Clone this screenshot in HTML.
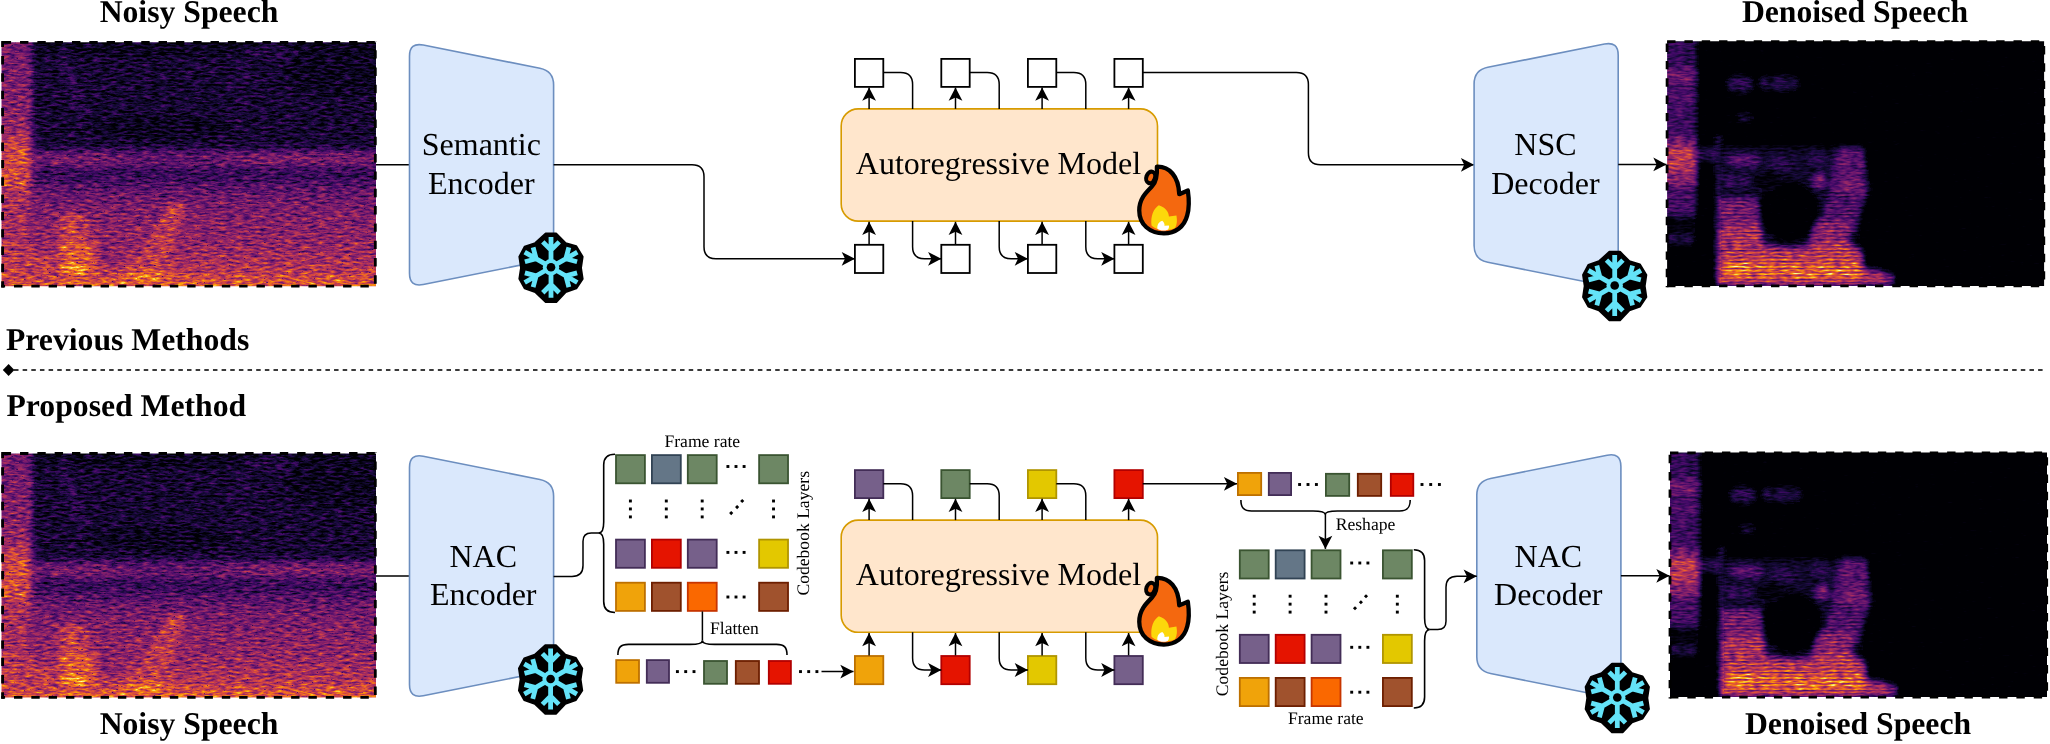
<!DOCTYPE html><html><head><meta charset="utf-8"><style>
html,body{margin:0;padding:0;background:#fff;width:2050px;height:744px;overflow:hidden}
svg{display:block;font-family:"Liberation Serif",serif;-webkit-font-smoothing:antialiased;will-change:transform}
text{text-rendering:geometricPrecision}
</style></head><body>
<svg width="2050" height="744" viewBox="0 0 2050 744">
<defs><g id="snow"><path d="M-5.4,-34.4 L5.4,-34.4 L15,-24.7 L25.8,-21.5 L32.3,-10.8 L30.6,0.5 L32.3,11.8 L25.8,21.5 L15,25.3 L5.4,35.5 L-5.4,35.5 L-16.1,25.3 L-26.9,21.5 L-32.3,11.8 L-30.6,0.5 L-32.3,-10.8 L-26.9,-21 L-16.1,-24.7Z" fill="#000" stroke="#000" stroke-width="2" stroke-linejoin="round"/>
<g stroke="#64e3f8" stroke-width="4.9" fill="none" stroke-linecap="butt"><path d="M0,-6 L0,-31 M0,-17.5 L-8.4,-25.9 M0,-17.5 L8.4,-25.9" transform="rotate(0)"/><path d="M0,-6 L0,-31 M0,-17.5 L-8.4,-25.9 M0,-17.5 L8.4,-25.9" transform="rotate(60)"/><path d="M0,-6 L0,-31 M0,-17.5 L-8.4,-25.9 M0,-17.5 L8.4,-25.9" transform="rotate(120)"/><path d="M0,-6 L0,-31 M0,-17.5 L-8.4,-25.9 M0,-17.5 L8.4,-25.9" transform="rotate(180)"/><path d="M0,-6 L0,-31 M0,-17.5 L-8.4,-25.9 M0,-17.5 L8.4,-25.9" transform="rotate(240)"/><path d="M0,-6 L0,-31 M0,-17.5 L-8.4,-25.9 M0,-17.5 L8.4,-25.9" transform="rotate(300)"/></g>
<circle r="8.4" fill="#64e3f8"/><circle r="4.4" fill="#000"/></g><g id="fire"><g transform="scale(0.10753)">
<ellipse cx="192" cy="162" rx="40" ry="55" transform="rotate(20 192 162)" fill="#f4680f" stroke="#000" stroke-width="38"/>
<path d="M250,62 C365,58 452,150 458,318 L538,284 C552,380 548,460 532,515 C505,622 420,682 315,682 C185,682 86,602 86,470 C86,360 150,300 205,245 C245,205 255,150 250,62 Z" fill="#f4680f" stroke="#000" stroke-width="40" stroke-linejoin="round"/>
<path d="M200,610 C190,520 220,450 268,420 C330,440 360,480 362,525 L432,515 C440,560 438,600 420,630 C380,660 250,665 200,610 Z" fill="#fcd80b"/>
<path d="M255,640 C250,600 270,575 300,565 C318,580 325,600 320,612 L362,608 C365,625 360,640 350,648 C320,660 280,660 255,640 Z" fill="#fff"/>
</g></g></defs>
<defs><filter id="infN" x="0" y="0" width="1" height="1" color-interpolation-filters="sRGB">
<feTurbulence type="fractalNoise" baseFrequency="0.12 0.45" numOctaves="3" seed="7" result="t"/>
<feColorMatrix in="t" type="matrix" values="1 0 0 0 0  1 0 0 0 0  1 0 0 0 0  0 0 0 0 1" result="n"/>
<feComposite in="SourceGraphic" in2="n" operator="arithmetic" k1="0.7" k2="0.65" k3="0.45" k4="-0.225" result="s"/>
<feTurbulence type="fractalNoise" baseFrequency="0.4 0.7" numOctaves="1" seed="12" result="t2"/>
<feColorMatrix in="t2" type="matrix" values="12 0 0 0 -8.399999999999999  12 0 0 0 -8.399999999999999  12 0 0 0 -8.399999999999999  0 0 0 0 1" result="m"/>
<feColorMatrix in="m" type="matrix" values="-0.6 0 0 0 1  0 -0.6 0 0 1  0 0 -0.6 0 1  0 0 0 0 1" result="mg"/>
<feComposite in="s" in2="mg" operator="arithmetic" k1="1" k2="0" k3="0" k4="0" result="s2"/>
<feComponentTransfer in="s2"><feFuncR type="table" tableValues="0 0.086 0.259 0.416 0.576 0.737 0.867 0.953 0.988 0.965 0.988"/><feFuncG type="table" tableValues="0 0.043 0.039 0.090 0.149 0.216 0.318 0.463 0.647 0.843 1.0"/><feFuncB type="table" tableValues="0.016 0.224 0.408 0.431 0.404 0.329 0.227 0.106 0.039 0.275 0.643"/><feFuncA type="linear" slope="0" intercept="1"/></feComponentTransfer>
</filter><filter id="infC" x="0" y="0" width="1" height="1" color-interpolation-filters="sRGB">
<feTurbulence type="fractalNoise" baseFrequency="0.12 0.45" numOctaves="2" seed="11" result="t"/>
<feColorMatrix in="t" type="matrix" values="1 0 0 0 0  1 0 0 0 0  1 0 0 0 0  0 0 0 0 1" result="n"/>
<feComposite in="SourceGraphic" in2="n" operator="arithmetic" k1="1.0" k2="0.5" k3="0.15" k4="-0.11" result="s"/>

<feComponentTransfer in="s"><feFuncR type="table" tableValues="0 0.086 0.259 0.416 0.576 0.737 0.867 0.953 0.988 0.965 0.988"/><feFuncG type="table" tableValues="0 0.043 0.039 0.090 0.149 0.216 0.318 0.463 0.647 0.843 1.0"/><feFuncB type="table" tableValues="0.016 0.224 0.408 0.431 0.404 0.329 0.227 0.106 0.039 0.275 0.643"/><feFuncA type="linear" slope="0" intercept="1"/></feComponentTransfer>
</filter><filter id="bl4" x="-5%" y="-5%" width="110%" height="110%"><feGaussianBlur stdDeviation="4"/></filter><filter id="bl3" x="-5%" y="-5%" width="110%" height="110%"><feGaussianBlur stdDeviation="3"/></filter><filter id="bl2" x="-5%" y="-5%" width="110%" height="110%"><feGaussianBlur stdDeviation="2.5 3"/></filter><clipPath id="cpN"><rect x="0" y="0" width="374.5" height="244"/></clipPath><clipPath id="cpC"><rect x="0" y="0" width="377" height="244.7"/></clipPath><linearGradient id="gN" gradientUnits="userSpaceOnUse" x1="0" y1="0" x2="0" y2="244"><stop offset="0.0000" stop-color="rgb(10,10,10)"/><stop offset="0.0615" stop-color="rgb(18,18,18)"/><stop offset="0.1434" stop-color="rgb(26,26,26)"/><stop offset="0.2254" stop-color="rgb(24,24,24)"/><stop offset="0.3074" stop-color="rgb(18,18,18)"/><stop offset="0.4221" stop-color="rgb(20,20,20)"/><stop offset="0.4467" stop-color="rgb(48,48,48)"/><stop offset="0.4631" stop-color="rgb(74,74,74)"/><stop offset="0.4877" stop-color="rgb(79,79,79)"/><stop offset="0.5082" stop-color="rgb(59,59,59)"/><stop offset="0.5246" stop-color="rgb(43,43,43)"/><stop offset="0.5656" stop-color="rgb(46,46,46)"/><stop offset="0.5943" stop-color="rgb(66,66,66)"/><stop offset="0.6557" stop-color="rgb(82,82,82)"/><stop offset="0.7377" stop-color="rgb(92,92,92)"/><stop offset="0.8197" stop-color="rgb(99,99,99)"/><stop offset="0.8811" stop-color="rgb(110,110,110)"/><stop offset="0.9344" stop-color="rgb(122,122,122)"/><stop offset="0.9713" stop-color="rgb(145,145,145)"/><stop offset="1.0000" stop-color="rgb(163,163,163)"/></linearGradient><linearGradient id="gL" gradientUnits="userSpaceOnUse" x1="0" y1="0" x2="0" y2="244"><stop offset="0.0000" stop-color="rgb(82,82,82)"/><stop offset="0.1639" stop-color="rgb(87,87,87)"/><stop offset="0.3484" stop-color="rgb(97,97,97)"/><stop offset="0.3975" stop-color="rgb(128,128,128)"/><stop offset="0.4426" stop-color="rgb(143,143,143)"/><stop offset="0.5738" stop-color="rgb(143,143,143)"/><stop offset="0.6148" stop-color="rgb(120,120,120)"/><stop offset="0.6967" stop-color="rgb(110,110,110)"/><stop offset="0.8197" stop-color="rgb(115,115,115)"/><stop offset="0.9426" stop-color="rgb(133,133,133)"/><stop offset="1.0000" stop-color="rgb(158,158,158)"/></linearGradient><g id="specN"><g clip-path="url(#cpN)"><g filter="url(#infN)"><g filter="url(#bl3)">
<rect x="-15" y="0" width="404.5" height="244" fill="url(#gN)"/>
<rect x="-15" y="-15" width="404.5" height="16" fill="rgb(10,10,10)"/>
<rect x="-15" y="243" width="404.5" height="16" fill="rgb(163,163,163)"/>
<rect x="-15" y="-15" width="44" height="274" fill="url(#gL)"/>
<ellipse cx="80" cy="117" rx="35" ry="5" fill="rgb(89,89,89)"/>
<ellipse cx="300" cy="116" rx="70" ry="5" fill="rgb(89,89,89)"/>
<ellipse cx="170" cy="117" rx="45" ry="5" fill="rgb(69,69,69)"/>
<path d="M52,10 L66,8 L88,70 L76,72 Z" fill="rgb(36,36,36)"/>
<ellipse cx="335" cy="25" rx="55" ry="30" fill="rgb(10,10,10)" opacity="0.8"/>
<ellipse cx="270" cy="12" rx="25" ry="10" fill="rgb(31,31,31)"/>
<ellipse cx="160" cy="85" rx="70" ry="12" fill="rgb(13,13,13)" opacity="0.6"/>
<rect x="236" y="10" width="4" height="80" fill="rgb(36,36,36)"/>
<path d="M58,172 L82,172 L90,200 L92,224 L58,224 Z" fill="rgb(133,133,133)"/>
<path d="M58,200 L92,200 L94,224 L58,224 Z" fill="rgb(153,153,153)"/>
<ellipse cx="75" cy="227" rx="16" ry="3.5" fill="rgb(209,209,209)"/>
<path d="M168,160 L186,165 L160,230 L130,230 Z" fill="rgb(128,128,128)"/>
<ellipse cx="146" cy="233" rx="22" ry="4" fill="rgb(184,184,184)"/>
<ellipse cx="110" cy="205" rx="15" ry="20" fill="rgb(97,97,97)"/>
<ellipse cx="28" cy="225" rx="25" ry="15" fill="rgb(128,128,128)"/>
</g></g></g></g><pattern id="harm" x="0" y="0" width="8" height="3.6" patternUnits="userSpaceOnUse"><rect x="0" y="0" width="8" height="1.3" fill="#000"/></pattern><g id="specC"><g clip-path="url(#cpC)"><g filter="url(#infC)"><g filter="url(#bl2)">
<rect x="-15" y="-15" width="407" height="274" fill="rgb(0,0,0)"/>
<rect x="-10" y="-10" width="38" height="37" fill="rgb(51,51,51)"/>
<rect x="-10" y="27" width="38" height="16" fill="rgb(82,82,82)"/>
<rect x="-10" y="43" width="38" height="9" fill="rgb(56,56,56)"/>
<rect x="-10" y="52" width="38" height="9" fill="rgb(76,76,76)"/>
<rect x="-10" y="61" width="38" height="35" fill="rgb(56,56,56)"/>
<rect x="-10" y="96" width="38" height="10" fill="rgb(92,92,92)"/>
<rect x="-10" y="106" width="38" height="24" fill="rgb(133,133,133)"/>
<rect x="-10" y="130" width="38" height="14" fill="rgb(102,102,102)"/>
<rect x="-10" y="144" width="38" height="30" fill="rgb(61,61,61)"/>
<rect x="-10" y="174" width="38" height="21" fill="rgb(13,13,13)"/>
<rect x="2" y="195" width="24" height="6" fill="rgb(51,51,51)"/>
<rect x="28" y="108" width="22" height="10" fill="rgb(46,46,46)"/>
<rect x="49.5" y="96" width="4" height="148" fill="rgb(51,51,51)"/>
<ellipse cx="73" cy="43" rx="12" ry="7" fill="rgb(51,51,51)"/>
<ellipse cx="112" cy="42" rx="20" ry="6" fill="rgb(43,43,43)"/>
<ellipse cx="77" cy="77" rx="8" ry="3" fill="rgb(38,38,38)"/>
<path d="M54,107 L192,107 L196,140 L206,150 L196,160 L190,200 L54,205 Z" fill="rgb(26,26,26)"/>
<ellipse cx="76" cy="119" rx="17" ry="5" fill="rgb(76,76,76)"/>
<ellipse cx="112" cy="122" rx="12" ry="5" fill="rgb(51,51,51)"/>
<ellipse cx="150" cy="118" rx="10" ry="5" fill="rgb(51,51,51)"/>
<ellipse cx="70" cy="140" rx="14" ry="6" fill="rgb(51,51,51)"/>
<path d="M170,108 L195,108 L199,150 L188,185 L174,214 L140,216 L152,185 L163,150 Z" fill="rgb(76,76,76)"/>
<ellipse cx="152" cy="140" rx="7" ry="6" fill="rgb(92,92,92)"/>
<ellipse cx="184" cy="145" rx="10" ry="6" fill="rgb(97,97,97)"/>
<path d="M150,180 L185,180 L172,216 L138,218 Z" fill="rgb(117,117,117)"/>
<circle cx="122" cy="170" r="31" fill="rgb(5,5,5)"/>
<ellipse cx="100" cy="140" rx="16" ry="10" fill="rgb(10,10,10)"/>
<path d="M53,158 L90,158 L94,212 L53,212 Z" fill="rgb(102,102,102)"/>
<path d="M53,185 L93,185 L97,214 L53,214 Z" fill="rgb(140,140,140)"/>
<path d="M53,214 L100,206 L125,209 L150,204 L178,200 L194,212 L194,228 L224,236 L224,241 L53,241 Z" fill="rgb(153,153,153)"/>
<path d="M53,222 L194,222 L194,240 L53,240 Z" fill="rgb(189,189,189)"/>
<ellipse cx="75" cy="226" rx="17" ry="2.2" fill="rgb(237,237,237)"/>
<ellipse cx="152" cy="232" rx="38" ry="1.8" fill="rgb(217,217,217)"/>
</g><rect x="54" y="150" width="172" height="92" fill="url(#harm)" opacity="0.38"/></g></g></g></defs>
<use href="#specN" transform="translate(1.5,42.3)"/>
<g fill="none" stroke="#000" stroke-width="2.8"><path d="M1.20,42.30 L376.70,42.30" stroke-dasharray="8.4 8.92" stroke-dashoffset="15.82"/><path d="M375.30,40.90 L375.30,287.60" stroke-dasharray="8.4 8.92" stroke-dashoffset="8.02"/><path d="M1.20,286.20 L376.70,286.20" stroke-dasharray="8.4 8.92" stroke-dashoffset="4.52"/><path d="M2.60,40.90 L2.60,287.60" stroke-dasharray="8.4 8.92" stroke-dashoffset="2.22"/></g>
<use href="#specC" transform="translate(1667.1,41.2)"/>
<g fill="none" stroke="#000" stroke-width="2.8"><path d="M1665.70,41.60 L2045.20,41.60" stroke-dasharray="8.4 8.92" stroke-dashoffset="15.92"/><path d="M2043.80,40.20 L2043.80,287.30" stroke-dasharray="8.4 8.92" stroke-dashoffset="11.52"/><path d="M1665.70,285.90 L2045.20,285.90" stroke-dasharray="8.4 8.92" stroke-dashoffset="15.92"/><path d="M1667.10,40.20 L1667.10,287.30" stroke-dasharray="8.4 8.92" stroke-dashoffset="13.92"/></g>
<use href="#specN" transform="translate(1.5,453.5)"/>
<g fill="none" stroke="#000" stroke-width="2.8"><path d="M1.20,453.50 L376.70,453.50" stroke-dasharray="8.4 8.92" stroke-dashoffset="15.82"/><path d="M375.30,452.10 L375.30,698.80" stroke-dasharray="8.4 8.92" stroke-dashoffset="8.02"/><path d="M1.20,697.40 L376.70,697.40" stroke-dasharray="8.4 8.92" stroke-dashoffset="4.52"/><path d="M2.60,452.10 L2.60,698.80" stroke-dasharray="8.4 8.92" stroke-dashoffset="2.22"/></g>
<use href="#specC" transform="translate(1670.0,452.4)"/>
<g fill="none" stroke="#000" stroke-width="2.8"><path d="M1668.60,452.80 L2048.10,452.80" stroke-dasharray="8.4 8.92" stroke-dashoffset="15.92"/><path d="M2046.70,451.40 L2046.70,698.50" stroke-dasharray="8.4 8.92" stroke-dashoffset="11.52"/><path d="M1668.60,697.10 L2048.10,697.10" stroke-dasharray="8.4 8.92" stroke-dashoffset="15.92"/><path d="M1670.00,451.40 L1670.00,698.50" stroke-dasharray="8.4 8.92" stroke-dashoffset="13.92"/></g>
<text x="189" y="22.2" font-size="31.7" font-weight="bold" text-anchor="middle" >Noisy Speech</text>
<text x="1855" y="22.2" font-size="31.7" font-weight="bold" text-anchor="middle" >Denoised Speech</text>
<text x="189" y="733.8" font-size="31.7" font-weight="bold" text-anchor="middle" >Noisy Speech</text>
<text x="1858" y="733.8" font-size="31.7" font-weight="bold" text-anchor="middle" >Denoised Speech</text>
<text x="6" y="350.2" font-size="31.7" font-weight="bold" text-anchor="start" >Previous Methods</text>
<text x="6.5" y="415.6" font-size="31.7" font-weight="bold" text-anchor="start" >Proposed Method</text>
<path d="M14,370 L2045,370" stroke="#3a3a3a" stroke-width="1.8" stroke-dasharray="4.5 4.15" fill="none"/>
<path d="M2.8,370 L8.6,364 L14.4,370 L8.6,376 Z" fill="#000"/>
<path d="M376.00,164.80 L409.50,164.80" fill="none" stroke="#000" stroke-width="1.5"/>
<path d="M409.50,56.30 Q409.50,42.30 423.23,45.03 L539.87,68.27 Q553.60,71.00 553.60,85.00 L553.60,244.60 Q553.60,258.60 539.87,261.33 L423.23,284.57 Q409.50,287.30 409.50,273.30Z" fill="#dae8fc" stroke="#6c8ebf" stroke-width="1.6"/>
<text x="481.3" y="154.8" font-size="32" text-anchor="middle" >Semantic</text>
<text x="481.3" y="193.7" font-size="32" text-anchor="middle" >Encoder</text>
<rect x="841.2" y="108.9" width="316.3" height="112.2" rx="17" ry="17" fill="#ffe6cc" stroke="#d79b00" stroke-width="1.6"/>
<text x="998.5" y="173.6" font-size="32" text-anchor="middle" >Autoregressive Model</text>
<rect x="854.90" y="58.90" width="28.40" height="28.00" fill="#ffffff" stroke="#000000" stroke-width="1.8"/>
<rect x="854.90" y="244.80" width="28.40" height="28.20" fill="#ffffff" stroke="#000000" stroke-width="1.8"/>
<path d="M869.10,108.90 L869.10,87.60" fill="none" stroke="#000" stroke-width="1.5"/><path d="M869.10,87.60 L862.20,100.80 L869.10,97.50 L876.00,100.80Z" fill="#000"/>
<path d="M869.10,244.20 L869.10,221.80" fill="none" stroke="#000" stroke-width="1.5"/><path d="M869.10,221.80 L862.20,235.00 L869.10,231.70 L876.00,235.00Z" fill="#000"/>
<rect x="941.30" y="58.90" width="28.40" height="28.00" fill="#ffffff" stroke="#000000" stroke-width="1.8"/>
<rect x="941.30" y="244.80" width="28.40" height="28.20" fill="#ffffff" stroke="#000000" stroke-width="1.8"/>
<path d="M955.50,108.90 L955.50,87.60" fill="none" stroke="#000" stroke-width="1.5"/><path d="M955.50,87.60 L948.60,100.80 L955.50,97.50 L962.40,100.80Z" fill="#000"/>
<path d="M955.50,244.20 L955.50,221.80" fill="none" stroke="#000" stroke-width="1.5"/><path d="M955.50,221.80 L948.60,235.00 L955.50,231.70 L962.40,235.00Z" fill="#000"/>
<rect x="1027.90" y="58.90" width="28.40" height="28.00" fill="#ffffff" stroke="#000000" stroke-width="1.8"/>
<rect x="1027.90" y="244.80" width="28.40" height="28.20" fill="#ffffff" stroke="#000000" stroke-width="1.8"/>
<path d="M1042.10,108.90 L1042.10,87.60" fill="none" stroke="#000" stroke-width="1.5"/><path d="M1042.10,87.60 L1035.20,100.80 L1042.10,97.50 L1049.00,100.80Z" fill="#000"/>
<path d="M1042.10,244.20 L1042.10,221.80" fill="none" stroke="#000" stroke-width="1.5"/><path d="M1042.10,221.80 L1035.20,235.00 L1042.10,231.70 L1049.00,235.00Z" fill="#000"/>
<rect x="1114.40" y="58.90" width="28.40" height="28.00" fill="#ffffff" stroke="#000000" stroke-width="1.8"/>
<rect x="1114.40" y="244.80" width="28.40" height="28.20" fill="#ffffff" stroke="#000000" stroke-width="1.8"/>
<path d="M1128.60,108.90 L1128.60,87.60" fill="none" stroke="#000" stroke-width="1.5"/><path d="M1128.60,87.60 L1121.70,100.80 L1128.60,97.50 L1135.50,100.80Z" fill="#000"/>
<path d="M1128.60,244.20 L1128.60,221.80" fill="none" stroke="#000" stroke-width="1.5"/><path d="M1128.60,221.80 L1121.70,235.00 L1128.60,231.70 L1135.50,235.00Z" fill="#000"/>
<path d="M883.30,72.60 L900.60,72.60 Q912.60,72.60 912.60,84.60 L912.60,108.90" fill="none" stroke="#000" stroke-width="1.5"/>
<path d="M912.60,221.10 L912.60,246.80 Q912.60,258.80 924.60,258.80 L941.30,258.80" fill="none" stroke="#000" stroke-width="1.5"/><path d="M941.30,258.80 L928.10,251.90 L931.40,258.80 L928.10,265.70Z" fill="#000"/>
<path d="M969.70,72.60 L987.20,72.60 Q999.20,72.60 999.20,84.60 L999.20,108.90" fill="none" stroke="#000" stroke-width="1.5"/>
<path d="M999.20,221.10 L999.20,246.80 Q999.20,258.80 1011.20,258.80 L1027.90,258.80" fill="none" stroke="#000" stroke-width="1.5"/><path d="M1027.90,258.80 L1014.70,251.90 L1018.00,258.80 L1014.70,265.70Z" fill="#000"/>
<path d="M1056.30,72.60 L1073.80,72.60 Q1085.80,72.60 1085.80,84.60 L1085.80,108.90" fill="none" stroke="#000" stroke-width="1.5"/>
<path d="M1085.80,221.10 L1085.80,246.80 Q1085.80,258.80 1097.80,258.80 L1114.40,258.80" fill="none" stroke="#000" stroke-width="1.5"/><path d="M1114.40,258.80 L1101.20,251.90 L1104.50,258.80 L1101.20,265.70Z" fill="#000"/>
<use href="#fire" x="1130" y="160"/>
<path d="M376.00,576.00 L409.50,576.00" fill="none" stroke="#000" stroke-width="1.5"/>
<path d="M409.50,467.50 Q409.50,453.50 423.23,456.23 L539.87,479.47 Q553.60,482.20 553.60,496.20 L553.60,655.80 Q553.60,669.80 539.87,672.53 L423.23,695.77 Q409.50,698.50 409.50,684.50Z" fill="#dae8fc" stroke="#6c8ebf" stroke-width="1.6"/>
<text x="483.2" y="567" font-size="32" text-anchor="middle" >NAC</text>
<text x="483.2" y="604.8" font-size="32" text-anchor="middle" >Encoder</text>
<rect x="841.2" y="520.1" width="316.3" height="112.2" rx="17" ry="17" fill="#ffe6cc" stroke="#d79b00" stroke-width="1.6"/>
<text x="998.5" y="584.8" font-size="32" text-anchor="middle" >Autoregressive Model</text>
<rect x="854.90" y="470.10" width="28.40" height="28.00" fill="#76608a" stroke="#432d57" stroke-width="1.8"/>
<rect x="854.90" y="656.00" width="28.40" height="28.20" fill="#f0a30a" stroke="#bd7000" stroke-width="1.8"/>
<path d="M869.10,520.10 L869.10,498.80" fill="none" stroke="#000" stroke-width="1.5"/><path d="M869.10,498.80 L862.20,512.00 L869.10,508.70 L876.00,512.00Z" fill="#000"/>
<path d="M869.10,655.40 L869.10,633.00" fill="none" stroke="#000" stroke-width="1.5"/><path d="M869.10,633.00 L862.20,646.20 L869.10,642.90 L876.00,646.20Z" fill="#000"/>
<rect x="941.30" y="470.10" width="28.40" height="28.00" fill="#6d8764" stroke="#3a5431" stroke-width="1.8"/>
<rect x="941.30" y="656.00" width="28.40" height="28.20" fill="#e51400" stroke="#b20000" stroke-width="1.8"/>
<path d="M955.50,520.10 L955.50,498.80" fill="none" stroke="#000" stroke-width="1.5"/><path d="M955.50,498.80 L948.60,512.00 L955.50,508.70 L962.40,512.00Z" fill="#000"/>
<path d="M955.50,655.40 L955.50,633.00" fill="none" stroke="#000" stroke-width="1.5"/><path d="M955.50,633.00 L948.60,646.20 L955.50,642.90 L962.40,646.20Z" fill="#000"/>
<rect x="1027.90" y="470.10" width="28.40" height="28.00" fill="#e3c800" stroke="#b09500" stroke-width="1.8"/>
<rect x="1027.90" y="656.00" width="28.40" height="28.20" fill="#e3c800" stroke="#b09500" stroke-width="1.8"/>
<path d="M1042.10,520.10 L1042.10,498.80" fill="none" stroke="#000" stroke-width="1.5"/><path d="M1042.10,498.80 L1035.20,512.00 L1042.10,508.70 L1049.00,512.00Z" fill="#000"/>
<path d="M1042.10,655.40 L1042.10,633.00" fill="none" stroke="#000" stroke-width="1.5"/><path d="M1042.10,633.00 L1035.20,646.20 L1042.10,642.90 L1049.00,646.20Z" fill="#000"/>
<rect x="1114.40" y="470.10" width="28.40" height="28.00" fill="#e51400" stroke="#b20000" stroke-width="1.8"/>
<rect x="1114.40" y="656.00" width="28.40" height="28.20" fill="#76608a" stroke="#432d57" stroke-width="1.8"/>
<path d="M1128.60,520.10 L1128.60,498.80" fill="none" stroke="#000" stroke-width="1.5"/><path d="M1128.60,498.80 L1121.70,512.00 L1128.60,508.70 L1135.50,512.00Z" fill="#000"/>
<path d="M1128.60,655.40 L1128.60,633.00" fill="none" stroke="#000" stroke-width="1.5"/><path d="M1128.60,633.00 L1121.70,646.20 L1128.60,642.90 L1135.50,646.20Z" fill="#000"/>
<path d="M883.30,483.80 L900.60,483.80 Q912.60,483.80 912.60,495.80 L912.60,520.10" fill="none" stroke="#000" stroke-width="1.5"/>
<path d="M912.60,632.30 L912.60,658.00 Q912.60,670.00 924.60,670.00 L941.30,670.00" fill="none" stroke="#000" stroke-width="1.5"/><path d="M941.30,670.00 L928.10,663.10 L931.40,670.00 L928.10,676.90Z" fill="#000"/>
<path d="M969.70,483.80 L987.20,483.80 Q999.20,483.80 999.20,495.80 L999.20,520.10" fill="none" stroke="#000" stroke-width="1.5"/>
<path d="M999.20,632.30 L999.20,658.00 Q999.20,670.00 1011.20,670.00 L1027.90,670.00" fill="none" stroke="#000" stroke-width="1.5"/><path d="M1027.90,670.00 L1014.70,663.10 L1018.00,670.00 L1014.70,676.90Z" fill="#000"/>
<path d="M1056.30,483.80 L1073.80,483.80 Q1085.80,483.80 1085.80,495.80 L1085.80,520.10" fill="none" stroke="#000" stroke-width="1.5"/>
<path d="M1085.80,632.30 L1085.80,658.00 Q1085.80,670.00 1097.80,670.00 L1114.40,670.00" fill="none" stroke="#000" stroke-width="1.5"/><path d="M1114.40,670.00 L1101.20,663.10 L1104.50,670.00 L1101.20,676.90Z" fill="#000"/>
<use href="#fire" x="1130" y="571.2"/>
<path d="M553.60,164.80 L692.00,164.80 Q704.00,164.80 704.00,176.80 L704.00,246.80 Q704.00,258.80 716.00,258.80 L854.90,258.80" fill="none" stroke="#000" stroke-width="1.5"/><path d="M854.90,258.80 L841.70,251.90 L845.00,258.80 L841.70,265.70Z" fill="#000"/>
<path d="M1142.80,72.60 L1296.40,72.60 Q1308.40,72.60 1308.40,84.60 L1308.40,152.80 Q1308.40,164.80 1320.40,164.80 L1474.10,164.80" fill="none" stroke="#000" stroke-width="1.5"/><path d="M1474.10,164.80 L1460.90,157.90 L1464.20,164.80 L1460.90,171.70Z" fill="#000"/>
<path d="M1474.10,84.00 Q1474.10,70.00 1487.83,67.27 L1604.47,44.03 Q1618.20,41.30 1618.20,55.30 L1618.20,274.30 Q1618.20,288.30 1604.47,285.57 L1487.83,262.33 Q1474.10,259.60 1474.10,245.60Z" fill="#dae8fc" stroke="#6c8ebf" stroke-width="1.6"/>
<text x="1545.4" y="154.8" font-size="32" text-anchor="middle" >NSC</text>
<text x="1545.4" y="193.7" font-size="32" text-anchor="middle" >Decoder</text>
<path d="M1618.20,164.40 L1666.50,164.40" fill="none" stroke="#000" stroke-width="1.5"/><path d="M1666.50,164.40 L1653.30,157.50 L1656.60,164.40 L1653.30,171.30Z" fill="#000"/>
<path d="M1476.80,495.20 Q1476.80,481.20 1490.53,478.47 L1607.17,455.23 Q1620.90,452.50 1620.90,466.50 L1620.90,685.50 Q1620.90,699.50 1607.17,696.77 L1490.53,673.53 Q1476.80,670.80 1476.80,656.80Z" fill="#dae8fc" stroke="#6c8ebf" stroke-width="1.6"/>
<text x="1548.3" y="567" font-size="32" text-anchor="middle" >NAC</text>
<text x="1548.3" y="604.8" font-size="32" text-anchor="middle" >Decoder</text>
<path d="M1620.90,575.80 L1669.50,575.80" fill="none" stroke="#000" stroke-width="1.5"/><path d="M1669.50,575.80 L1656.30,568.90 L1659.60,575.80 L1656.30,582.70Z" fill="#000"/>
<g fill="#000"><rect x="616.00" y="455.10" width="28.90" height="28.20" fill="#6d8764" stroke="#3a5431" stroke-width="1.8"/><rect x="651.90" y="455.10" width="28.90" height="28.20" fill="#647687" stroke="#314354" stroke-width="1.8"/><rect x="687.80" y="455.10" width="28.90" height="28.20" fill="#6d8764" stroke="#3a5431" stroke-width="1.8"/><rect x="759.12" y="455.10" width="28.90" height="28.20" fill="#6d8764" stroke="#3a5431" stroke-width="1.8"/><rect x="726.45" y="465.05" width="2.9" height="2.9"/><rect x="734.55" y="465.05" width="2.9" height="2.9"/><rect x="742.65" y="465.05" width="2.9" height="2.9"/><rect x="616.00" y="539.60" width="28.90" height="28.20" fill="#76608a" stroke="#432d57" stroke-width="1.8"/><rect x="651.90" y="539.60" width="28.90" height="28.20" fill="#e51400" stroke="#b20000" stroke-width="1.8"/><rect x="687.80" y="539.60" width="28.90" height="28.20" fill="#76608a" stroke="#432d57" stroke-width="1.8"/><rect x="759.12" y="539.60" width="28.90" height="28.20" fill="#e3c800" stroke="#b09500" stroke-width="1.8"/><rect x="726.45" y="550.95" width="2.9" height="2.9"/><rect x="734.55" y="550.95" width="2.9" height="2.9"/><rect x="742.65" y="550.95" width="2.9" height="2.9"/><rect x="616.00" y="582.70" width="28.90" height="28.20" fill="#f0a30a" stroke="#bd7000" stroke-width="1.8"/><rect x="651.90" y="582.70" width="28.90" height="28.20" fill="#a0522d" stroke="#6d1f00" stroke-width="1.8"/><rect x="687.80" y="582.70" width="28.90" height="28.20" fill="#fa6800" stroke="#c73500" stroke-width="1.8"/><rect x="759.12" y="582.70" width="28.90" height="28.20" fill="#a0522d" stroke="#6d1f00" stroke-width="1.8"/><rect x="726.45" y="595.55" width="2.9" height="2.9"/><rect x="734.55" y="595.55" width="2.9" height="2.9"/><rect x="742.65" y="595.55" width="2.9" height="2.9"/><rect x="628.95" y="499.55" width="2.9" height="2.9"/><rect x="628.95" y="507.50" width="2.9" height="2.9"/><rect x="628.95" y="515.45" width="2.9" height="2.9"/><rect x="664.85" y="499.55" width="2.9" height="2.9"/><rect x="664.85" y="507.50" width="2.9" height="2.9"/><rect x="664.85" y="515.45" width="2.9" height="2.9"/><rect x="700.75" y="499.55" width="2.9" height="2.9"/><rect x="700.75" y="507.50" width="2.9" height="2.9"/><rect x="700.75" y="515.45" width="2.9" height="2.9"/><rect x="772.07" y="499.55" width="2.9" height="2.9"/><rect x="772.07" y="507.50" width="2.9" height="2.9"/><rect x="772.07" y="515.45" width="2.9" height="2.9"/><rect x="729.75" y="511.65" width="2.9" height="2.9" transform="rotate(45 731.20 513.10)"/><rect x="735.65" y="505.65" width="2.9" height="2.9" transform="rotate(45 737.10 507.10)"/><rect x="740.75" y="499.55" width="2.9" height="2.9" transform="rotate(45 742.20 501.00)"/></g>
<g fill="#000"><rect x="1239.80" y="550.30" width="28.90" height="28.20" fill="#6d8764" stroke="#3a5431" stroke-width="1.8"/><rect x="1275.70" y="550.30" width="28.90" height="28.20" fill="#647687" stroke="#314354" stroke-width="1.8"/><rect x="1311.60" y="550.30" width="28.90" height="28.20" fill="#6d8764" stroke="#3a5431" stroke-width="1.8"/><rect x="1382.92" y="550.30" width="28.90" height="28.20" fill="#6d8764" stroke="#3a5431" stroke-width="1.8"/><rect x="1350.25" y="561.55" width="2.9" height="2.9"/><rect x="1358.35" y="561.55" width="2.9" height="2.9"/><rect x="1366.45" y="561.55" width="2.9" height="2.9"/><rect x="1239.80" y="634.80" width="28.90" height="28.20" fill="#76608a" stroke="#432d57" stroke-width="1.8"/><rect x="1275.70" y="634.80" width="28.90" height="28.20" fill="#e51400" stroke="#b20000" stroke-width="1.8"/><rect x="1311.60" y="634.80" width="28.90" height="28.20" fill="#76608a" stroke="#432d57" stroke-width="1.8"/><rect x="1382.92" y="634.80" width="28.90" height="28.20" fill="#e3c800" stroke="#b09500" stroke-width="1.8"/><rect x="1350.25" y="645.85" width="2.9" height="2.9"/><rect x="1358.35" y="645.85" width="2.9" height="2.9"/><rect x="1366.45" y="645.85" width="2.9" height="2.9"/><rect x="1239.80" y="677.90" width="28.90" height="28.20" fill="#f0a30a" stroke="#bd7000" stroke-width="1.8"/><rect x="1275.70" y="677.90" width="28.90" height="28.20" fill="#a0522d" stroke="#6d1f00" stroke-width="1.8"/><rect x="1311.60" y="677.90" width="28.90" height="28.20" fill="#fa6800" stroke="#c73500" stroke-width="1.8"/><rect x="1382.92" y="677.90" width="28.90" height="28.20" fill="#a0522d" stroke="#6d1f00" stroke-width="1.8"/><rect x="1350.25" y="690.75" width="2.9" height="2.9"/><rect x="1358.35" y="690.75" width="2.9" height="2.9"/><rect x="1366.45" y="690.75" width="2.9" height="2.9"/><rect x="1252.75" y="594.75" width="2.9" height="2.9"/><rect x="1252.75" y="602.70" width="2.9" height="2.9"/><rect x="1252.75" y="610.65" width="2.9" height="2.9"/><rect x="1288.65" y="594.75" width="2.9" height="2.9"/><rect x="1288.65" y="602.70" width="2.9" height="2.9"/><rect x="1288.65" y="610.65" width="2.9" height="2.9"/><rect x="1324.55" y="594.75" width="2.9" height="2.9"/><rect x="1324.55" y="602.70" width="2.9" height="2.9"/><rect x="1324.55" y="610.65" width="2.9" height="2.9"/><rect x="1395.87" y="594.75" width="2.9" height="2.9"/><rect x="1395.87" y="602.70" width="2.9" height="2.9"/><rect x="1395.87" y="610.65" width="2.9" height="2.9"/><rect x="1353.55" y="606.85" width="2.9" height="2.9" transform="rotate(45 1355.00 608.30)"/><rect x="1359.45" y="600.85" width="2.9" height="2.9" transform="rotate(45 1360.90 602.30)"/><rect x="1364.55" y="594.75" width="2.9" height="2.9" transform="rotate(45 1366.00 596.20)"/></g>
<text x="702.3" y="446.6" font-size="17.6" text-anchor="middle" >Frame rate</text>
<text x="1325.8" y="724" font-size="17.6" text-anchor="middle" >Frame rate</text>
<text x="0" y="0" font-size="17.6" text-anchor="middle" transform="translate(808.5,533.3) rotate(-90)">Codebook Layers</text>
<text x="0" y="0" font-size="17.6" text-anchor="middle" transform="translate(1228.2,633.9) rotate(-90)">Codebook Layers</text>
<text x="710" y="633.9" font-size="17.6" text-anchor="start" >Flatten</text>
<text x="1335.7" y="529.8" font-size="17.6" text-anchor="start" >Reshape</text>
<path d="M615,454.3 C607.5,454.3 603.7,457.5 603.7,465 L603.7,522 C603.7,529.5 602,533 598.8,533 C602,533 603.7,536.5 603.7,544 L603.7,601.5 C603.7,609 607.5,612.5 615,612.5" fill="none" stroke="#000" stroke-width="1.6"/>
<path d="M553.60,576.50 L572.00,576.50 Q583.00,576.50 583.00,565.50 L583.00,541.25 Q583.00,533.00 591.25,533.00 L599.50,533.00" fill="none" stroke="#000" stroke-width="1.5"/>
<path d="M617.9,655 C617.9,647.5 620.5,644.4 628.5,644.4 L690,644.4 C698,644.4 702.4,643 702.4,640.4 C702.4,643 706.8,644.4 714.8,644.4 L776.5,644.4 C784.5,644.4 787,647.5 787,655" fill="none" stroke="#000" stroke-width="1.6"/>
<path d="M702.40,611.40 L702.40,640.60" fill="none" stroke="#000" stroke-width="1.5"/>
<rect x="616.20" y="660.10" width="22.80" height="22.70" fill="#f0a30a" stroke="#bd7000" stroke-width="1.8"/>
<rect x="646.80" y="660.10" width="22.20" height="22.70" fill="#76608a" stroke="#432d57" stroke-width="1.8"/>
<g fill="#000"><rect x="675.95" y="670.15" width="2.9" height="2.9"/><rect x="684.25" y="670.15" width="2.9" height="2.9"/><rect x="692.55" y="670.15" width="2.9" height="2.9"/></g>
<rect x="704.00" y="661.00" width="23.00" height="22.80" fill="#6d8764" stroke="#3a5431" stroke-width="1.8"/>
<rect x="735.80" y="661.00" width="23.20" height="22.80" fill="#a0522d" stroke="#6d1f00" stroke-width="1.8"/>
<rect x="768.80" y="661.00" width="22.10" height="22.80" fill="#e51400" stroke="#b20000" stroke-width="1.8"/>
<g fill="#000"><rect x="799.05" y="670.15" width="2.9" height="2.9"/><rect x="807.25" y="670.15" width="2.9" height="2.9"/><rect x="815.45" y="670.15" width="2.9" height="2.9"/></g>
<path d="M821.50,671.60 L853.50,671.60" fill="none" stroke="#000" stroke-width="1.5"/><path d="M853.50,671.60 L840.30,664.70 L843.60,671.60 L840.30,678.50Z" fill="#000"/>
<path d="M1142.80,483.80 L1237.10,483.80" fill="none" stroke="#000" stroke-width="1.5"/><path d="M1237.10,483.80 L1223.90,476.90 L1227.20,483.80 L1223.90,490.70Z" fill="#000"/>
<rect x="1237.90" y="472.90" width="23.30" height="22.20" fill="#f0a30a" stroke="#bd7000" stroke-width="1.8"/>
<rect x="1268.80" y="472.90" width="22.30" height="22.20" fill="#76608a" stroke="#432d57" stroke-width="1.8"/>
<g fill="#000"><rect x="1298.15" y="483.05" width="2.9" height="2.9"/><rect x="1306.55" y="483.05" width="2.9" height="2.9"/><rect x="1314.95" y="483.05" width="2.9" height="2.9"/></g>
<rect x="1325.90" y="473.80" width="23.30" height="22.10" fill="#6d8764" stroke="#3a5431" stroke-width="1.8"/>
<rect x="1357.80" y="473.80" width="23.40" height="22.10" fill="#a0522d" stroke="#6d1f00" stroke-width="1.8"/>
<rect x="1390.80" y="473.80" width="22.50" height="22.10" fill="#e51400" stroke="#b20000" stroke-width="1.8"/>
<g fill="#000"><rect x="1420.55" y="483.05" width="2.9" height="2.9"/><rect x="1429.25" y="483.05" width="2.9" height="2.9"/><rect x="1437.95" y="483.05" width="2.9" height="2.9"/></g>
<path d="M1240.9,500 C1240.9,507.5 1243.5,511 1251.5,511 L1313,511 C1321,511 1325.2,512 1325.2,514.5 C1325.2,512 1329.5,511 1337.5,511 L1399.5,511 C1407.5,511 1410.2,507.5 1410.2,500" fill="none" stroke="#000" stroke-width="1.6"/>
<path d="M1325.40,514.00 L1325.40,548.90" fill="none" stroke="#000" stroke-width="1.5"/><path d="M1325.40,548.90 L1318.50,535.70 L1325.40,539.00 L1332.30,535.70Z" fill="#000"/>
<path d="M1413.8,549.7 C1421,549.7 1424.6,553 1424.6,560.5 L1424.6,618 C1424.6,625.5 1426.5,629.5 1429.8,629.5 C1426.5,629.5 1424.6,633.5 1424.6,641 L1424.6,697 C1424.6,704.5 1421,708 1413.8,708" fill="none" stroke="#000" stroke-width="1.6"/>
<path d="M1429.60,629.50 L1437.80,629.50 Q1446.00,629.50 1446.00,621.30 L1446.00,587.30 Q1446.00,576.30 1457.00,576.30 L1476.80,576.30" fill="none" stroke="#000" stroke-width="1.5"/><path d="M1476.80,576.30 L1463.60,569.40 L1466.90,576.30 L1463.60,583.20Z" fill="#000"/>
<use href="#snow" transform="translate(551,267.3) scale(0.98)"/>
<use href="#snow" transform="translate(1614.7,285.5) scale(0.98)"/>
<use href="#snow" transform="translate(550.6,679) scale(0.98)"/>
<use href="#snow" transform="translate(1617.3,697.5) scale(0.98)"/>
</svg></body></html>
